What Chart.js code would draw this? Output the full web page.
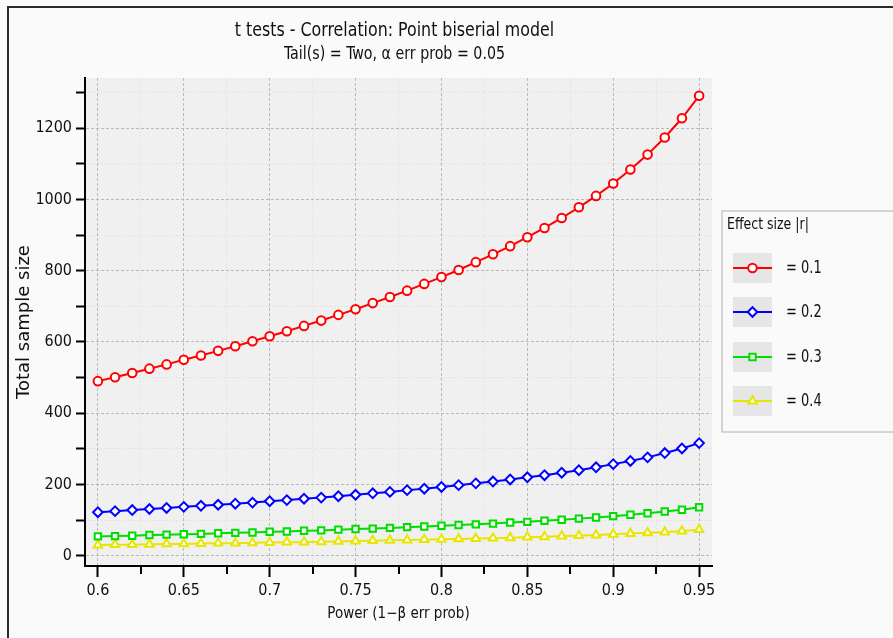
<!DOCTYPE html>
<html><head><meta charset="utf-8">
<script src="https://cdn.jsdelivr.net/npm/chart.js@4.4.0/dist/chart.umd.min.js"></script>
<style>html,body{margin:0;padding:0;background:#fafafa;}canvas{display:block;}</style>
</head><body>
<canvas id="c" width="893" height="638"></canvas>
<script>
const power = [0.60,0.61,0.62,0.63,0.64,0.65,0.66,0.67,0.68,0.69,0.70,0.71,0.72,0.73,0.74,0.75,0.76,0.77,0.78,0.79,0.80,0.81,0.82,0.83,0.84,0.85,0.86,0.87,0.88,0.89,0.90,0.91,0.92,0.93,0.94,0.95];
const n_r01 = [490,501,513,525,537,550,562,575,588,602,616,630,645,660,676,692,709,726,744,763,782,802,824,846,869,894,920,948,978,1010,1045,1084,1126,1174,1228,1291];
const n_r02 = [122,125,128,131,134,137,140,143,146,149,153,156,160,163,167,171,175,179,184,188,193,198,203,208,214,220,226,233,240,248,257,266,276,288,301,316];
const n_r03 = [54,55,56,58,59,60,61,63,64,65,67,68,70,71,73,75,76,78,80,82,84,86,88,90,93,95,98,101,104,107,111,115,119,124,129,136];
const n_r04 = [30,31,31,32,33,33,34,35,35,36,37,38,38,39,40,41,42,43,44,45,46,47,48,49,50,52,53,55,56,58,60,62,64,66,69,73];
const seriesLabels = ['= 0.1','= 0.2','= 0.3','= 0.4'];
const xMajorTicks = [0.6,0.65,0.7,0.75,0.8,0.85,0.9,0.95];
const xMinorTicks = [0.625,0.675,0.725,0.775,0.825,0.875,0.925];
const yTicks = [0,100,200,300,400,500,600,700,800,900,1000,1100,1200,1300];
const yLabelled = [0,200,400,600,800,1000,1200];

const colors = ['#ff0000','#0000ff','#00dd00','#e6e600'];
const styles = ['circle','rectRot','rect','triangle'];
const radii = [4.3,4.8,4.5,4.8];
const seriesValues = [n_r01,n_r02,n_r03,n_r04];

const COND = "'DejaVu Sans Condensed','DejaVu Sans',sans-serif";

const datasets = seriesValues.map((vals,i)=>({
  label: seriesLabels[i],
  data: power.map((p,j)=>({x:p,y:vals[j]})),
  borderColor: colors[i],
  backgroundColor: '#ffffff',
  borderWidth: 2,
  pointStyle: styles[i],
  pointRadius: radii[i],
  pointBorderWidth: 2,
  pointBackgroundColor: '#ffffff',
  pointBorderColor: colors[i],
  tension: 0
}));

const xAll = xMajorTicks.concat(xMinorTicks).sort((a,b)=>a-b);
const isXMajor = v => xMajorTicks.some(m=>Math.abs(m-v)<1e-9);
const isYMajor = v => yLabelled.includes(v);

function squeezedText(ctx, text, x, y, font, sx, align){
  ctx.save();
  ctx.font = font;
  ctx.textBaseline = 'middle';
  ctx.textAlign = align;
  ctx.translate(x, y);
  ctx.scale(sx, 1);
  ctx.fillText(text, 0, 0);
  ctx.restore();
}

const bgPlugin = {
  id:'bg',
  beforeDraw(chart){
    const {ctx, chartArea:a} = chart;
    ctx.save();
    ctx.fillStyle='#fafafa';
    ctx.fillRect(0,0,chart.width,chart.height);
    ctx.fillStyle='#f0f0f0';
    ctx.fillRect(a.left,a.top,a.right-a.left,a.bottom-a.top);
    ctx.strokeStyle='#2a2a2a';
    ctx.lineWidth=2;
    ctx.beginPath();
    ctx.moveTo(8,638); ctx.lineTo(8,7); ctx.lineTo(893,7);
    ctx.stroke();
    ctx.restore();
  },
  afterDraw(chart){
    const {ctx, chartArea:a} = chart;
    ctx.save();
    const cx = (a.left+a.right)/2 - 4;
    ctx.fillStyle='#111';
    squeezedText(ctx,'t tests - Correlation: Point biserial model', cx, 31, "20px "+COND, 0.88, 'center');
    squeezedText(ctx,'Tail(s) = Two, \u03b1 err prob = 0.05', cx, 55, "17px "+COND, 0.93, 'center');
    // x minor ticks
    const xs = chart.scales.x;
    ctx.strokeStyle='#000'; ctx.lineWidth=2;
    xMinorTicks.forEach(v=>{
      const px = Math.round(xs.getPixelForValue(v));
      ctx.beginPath(); ctx.moveTo(px,a.bottom); ctx.lineTo(px,a.bottom+8); ctx.stroke();
    });
    // legend
    const L = a.right + 10, T = 211, W = 200, H = 221;
    ctx.fillStyle='#fafafa';
    ctx.fillRect(L,T,W,H);
    ctx.strokeStyle='#c8c8c8'; ctx.lineWidth=1.5;
    ctx.strokeRect(L,T,W,H);
    ctx.fillStyle='#111';
    squeezedText(ctx,'Effect size |r|', L+5, T+14, "16px "+COND, 0.87, 'left');
    const rows = [268,312,357,401];
    seriesLabels.forEach((lab,i)=>{
      const y = rows[i];
      const sx = L+11, sw = 39;
      ctx.fillStyle='#e6e6e6';
      ctx.fillRect(sx,y-15,sw,30);
      ctx.strokeStyle=colors[i]; ctx.lineWidth=2;
      ctx.beginPath(); ctx.moveTo(sx,y); ctx.lineTo(sx+sw,y); ctx.stroke();
      ctx.fillStyle='#ffffff';
      ctx.strokeStyle=colors[i];
      Chart.helpers.drawPoint(ctx,{pointStyle:styles[i],radius:radii[i],borderWidth:2,rotation:0},sx+sw/2,y);
      ctx.fillStyle='#111';
      squeezedText(ctx, lab, L+64, y+1, "17px "+COND, 0.85, 'left');
    });
    ctx.restore();
  }
};

new Chart(document.getElementById('c'),{
  type:'line',
  data:{datasets},
  options:{
    responsive:false,
    animation:false,
    layout:{padding:{top:78,right:181,left:0,bottom:0}},
    plugins:{legend:{display:false},title:{display:false},tooltip:{enabled:false}},
    scales:{
      x:{
        type:'linear', min:0.5925, max:0.9575,
        afterBuildTicks(s){ s.ticks = xAll.map(v=>({value:v})); },
        afterFit(s){ s.height = 72; },
        ticks:{autoSkip:false, maxRotation:0, padding:4, color:'#111',
          font:{family:COND,size:16},
          callback:(v)=> isXMajor(v) ? String(v) : ''},
        grid:{
          color: c => (c.tick && isXMajor(c.tick.value)) ? '#b9b9b9' : '#dcdcdc',
          lineWidth:1,
          tickLength:11, tickWidth:2,
          tickColor: c => (c.tick && isXMajor(c.tick.value)) ? '#000' : 'rgba(0,0,0,0)'
        },
        border:{display:true,color:'#000',width:2,
          dash: c => (c.tick && isXMajor(c.tick.value)) ? [3,2] : [1,2]},
        title:{display:true,text:'Power (1\u2212\u03b2 err prob)',color:'#111',
          font:{family:COND,size:15},padding:{top:0,bottom:15}}
      },
      y:{
        type:'linear', min:-29, max:1341,
        afterBuildTicks(s){ s.ticks = yTicks.map(v=>({value:v})); },
        afterFit(s){ s.width = 85; },
        ticks:{autoSkip:false, padding:4, color:'#111',
          font:{family:COND,size:16},
          callback:(v)=> isYMajor(v) ? String(v) : ''},
        grid:{
          color: c => (c.tick && isYMajor(c.tick.value)) ? '#b9b9b9' : '#dcdcdc',
          lineWidth:1, tickLength:9, tickWidth:2, tickColor:'#000'
        },
        border:{display:true,color:'#000',width:2,
          dash: c => (c.tick && isYMajor(c.tick.value)) ? [3,2] : [1,2]},
        title:{display:true,text:'Total sample size',color:'#111',
          font:{family:"'DejaVu Sans',sans-serif",size:18},padding:{top:14,bottom:0}}
      }
    }
  },
  plugins:[bgPlugin]
});
</script>
</body></html>
